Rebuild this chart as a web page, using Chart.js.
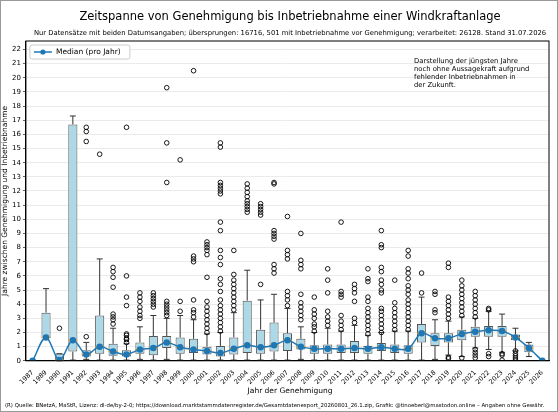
<!DOCTYPE html>
<html><head><meta charset="utf-8">
<script src="https://cdn.jsdelivr.net/npm/chart.js@4"></script>
<style>html,body{margin:0;padding:0;background:#fff}#w{position:relative;width:556px;height:410px;border:1px solid #999}canvas{display:block}</style>
</head><body><div id="w"><canvas id="c" width="556" height="410"></canvas></div>
<script>
const years=['1987','1989','1990','1991','1992','1993','1994','1995','1996','1997','1998','1999','2000','2001','2002','2003','2004','2005','2006','2007','2008','2009','2010','2011','2012','2013','2014','2015','2016','2017','2018','2019','2020','2021','2022','2023','2024','2025','2026'];
const whiskerLow=[0,1.6,0,0.05,0.1,0.05,0.05,0.05,0.1,0.05,0.1,0.05,0.05,0.05,0.05,0.05,0.05,0.05,0.05,0.05,0.1,0.05,0.05,0.05,0.05,0.05,0.05,0.05,0.05,0.05,0.1,0.4,0.3,0.9,0.8,0.6,0.7,0.3,0];
const q1=[0,1.6,0.02,0.65,0.3,0.5,0.35,0.3,0.5,0.4,0.9,0.5,0.55,0.45,0.3,0.45,0.55,0.5,0.65,0.7,0.8,0.5,0.5,0.55,0.55,0.5,0.7,0.55,0.5,1.3,1.05,1.3,1.45,1.7,1.7,1.7,1.45,0.6,0];
const median=[0,1.65,0.05,1.45,0.45,1.0,0.65,0.45,0.8,0.9,1.3,0.95,0.8,0.7,0.55,0.85,1.1,0.95,1.1,1.45,1.0,0.85,0.85,0.85,0.9,0.85,0.95,0.85,0.85,1.95,1.6,1.6,1.9,2.05,2.15,2.1,1.65,0.9,0];
const q3=[0,3.4,0.5,16.7,0.75,3.2,1.2,0.75,1.3,1.75,1.75,1.65,1.55,1.0,1.05,1.65,4.25,2.2,2.7,1.95,1.55,1.1,1.15,1.15,1.4,1.05,1.25,1.15,1.1,2.6,1.95,1.95,2.2,2.4,2.45,2.45,1.85,1.15,0];
const whiskerHigh=[0,5.1,0.5,17.3,1.3,7.2,2.3,1.2,2.4,3.2,3.0,3.2,2.9,1.9,2.0,3.4,6.4,4.3,4.7,3.7,2.4,2.0,2.3,2.1,2.5,1.8,2.0,2.1,2.1,4.5,2.9,2.8,3.1,3.0,3.5,3.3,2.3,1.3,0];
const outliers=[[],[],[2.3],[],[1.7,15.5,16.2,16.5],[14.6],[2.6,2.9,3.1,3.3,5.2,5.9,6.3,6.6],[1.3,1.5,1.6,1.8,1.9,3.9,4.5,6.0,16.5],[3.0,3.2,3.5,3.8,4.2,4.5,4.8],[3.8,4.0,4.2,4.4,4.6,4.8],[3.2,3.4,3.6,3.8,4.0,4.2,12.6,15.4,19.3],[3.5,4.2,14.2],[3.1,3.4,3.6,4.3,7.0,7.2,7.4,20.5],[2.0,2.3,2.6,2.9,3.2,3.5,3.8,4.2,5.9,7.5,7.8,8.0,8.2,8.4],[2.1,2.4,2.7,3.0,3.3,3.6,3.9,4.3,4.9,5.4,5.8,6.8,7.3,7.8,9.2,9.8,11.8,12.0,12.2,12.4,12.6,15.1,15.4],[3.6,3.9,4.2,4.5,4.8,5.1,5.4,5.7,6.1,7.8],[10.5,10.7,10.9,11.1,11.3,11.6,11.9,12.2,12.5],[5.4,10.3,10.5,10.7,10.9,11.1],[6.2,6.5,6.8,8.6,8.8,9.0,9.2,12.5,12.6],[3.9,4.3,4.6,4.9,7.2,7.5,7.8,10.2],[2.9,3.2,3.5,3.8,4.1,4.7,6.5,6.8,7.1,9.0],[2.1,2.4,2.6,3.0,3.3,3.6,4.5],[2.5,2.8,3.1,3.5,4.8,5.7,6.5],[2.2,2.5,2.8,3.2,4.5,4.7,4.9,9.8],[2.7,3.0,4.2,4.8,5.1,5.4],[1.9,2.2,2.5,2.8,3.1,3.4,3.7,4.2,4.5,5.6,5.8,6.5],[2.0,2.3,2.6,2.9,3.2,3.5,3.7,4.8,5.0,5.4,5.7,6.3,6.6,8.0,8.2,9.2],[2.2,2.5,2.8,3.1,3.4,3.7,4.1,5.7],[2.2,2.5,2.8,3.1,3.4,3.7,4.0,4.3,4.7,5.0,5.3,5.8,6.2,6.5,7.4,7.8],[4.8,6.2],[3.4,3.6,4.7,4.9],[0.15,0.25,3.0,3.3,3.6,3.9,4.2,4.5,6.6,6.9],[0.2,3.2,3.5,3.8,4.1,4.4,4.7,5.0,5.3,5.7],[0.2,0.4,0.6,0.8,3.1,3.4,3.7,4.0,4.3,4.6,4.9],[0.3,0.5,3.6,3.7],[0.05,0.4,0.5],[0.05,0.2,0.35,0.5,0.7],[],[]];
const yTicks=[0,1,2,3,4,5,6,7,8,9,10,11,12,13,14,15,16,17,18,19,20,21,22];

const outlierPts=[];
years.forEach((y,i)=>outliers[i].forEach(v=>outlierPts.push({x:y,y:v})));

const boxPlugin={id:'box',
 beforeDatasetsDraw(ch){
  const c=ch.ctx,xs=ch.scales.x,ys=ch.scales.y;
  c.save();c.strokeStyle='#333';c.lineWidth=1;
  years.forEach((yr,i)=>{
   const x=xs.getPixelForValue(i);
   if(whiskerHigh[i]===0&&q3[i]===0)return;
   c.beginPath();
   c.moveTo(x,ys.getPixelForValue(q3[i]));c.lineTo(x,ys.getPixelForValue(whiskerHigh[i]));
   c.moveTo(x,ys.getPixelForValue(q1[i]));c.lineTo(x,ys.getPixelForValue(whiskerLow[i]));
   c.moveTo(x-3,ys.getPixelForValue(whiskerHigh[i]));c.lineTo(x+3,ys.getPixelForValue(whiskerHigh[i]));
   c.moveTo(x-3,ys.getPixelForValue(whiskerLow[i]));c.lineTo(x+3,ys.getPixelForValue(whiskerLow[i]));
   c.stroke();
  });
  c.restore();
 },
 afterDatasetDraw(ch,args){
  if(args.index!==0)return;
  const c=ch.ctx,xs=ch.scales.x,ys=ch.scales.y;
  c.save();c.strokeStyle='#f39a1e';c.lineWidth=1.2;
  years.forEach((yr,i)=>{
   if(q3[i]===0)return;
   const x=xs.getPixelForValue(i),y=ys.getPixelForValue(median[i]);
   c.beginPath();c.moveTo(x-4.5,y);c.lineTo(x+4.5,y);c.stroke();
  });
  c.restore();
 },
 afterDraw(ch){
  const c=ch.ctx,a=ch.chartArea;
  c.save();
  c.strokeStyle='#000';c.lineWidth=1;c.strokeRect(a.left,a.top,a.right-a.left,a.bottom-a.top);
  c.fillStyle='#fff';c.strokeStyle='#ccc';
  c.beginPath();c.roundRect(a.left+4,a.top+4,100,14,2);c.fill();c.stroke();
  c.strokeStyle='#1f77b4';c.lineWidth=1.5;c.beginPath();c.moveTo(a.left+8,a.top+11);c.lineTo(a.left+26,a.top+11);c.stroke();
  c.fillStyle='#1f77b4';c.beginPath();c.arc(a.left+17,a.top+11,2.6,0,7);c.fill();
  c.fillStyle='#000';c.font='7.5px "DejaVu Sans"';c.textBaseline='middle';c.fillText('Median (pro Jahr)',a.left+30,a.top+11.5);
  c.textBaseline='alphabetic';c.font='6.8px "DejaVu Sans"';
  ['Darstellung der jüngsten Jahre','noch ohne Aussagekraft aufgrund','fehlender Inbetriebnahmen in','der Zukunft.'].forEach((t,k)=>c.fillText(t,413,62+k*8));
  c.textAlign='center';c.font='11.5px "DejaVu Sans"';c.fillText('Zeitspanne von Genehmigung bis Inbetriebnahme einer Windkraftanlage',289,19);
  c.font='6.8px "DejaVu Sans"';c.fillText('Nur Datensätze mit beiden Datumsangaben; übersprungen: 16716, 501 mit Inbetriebnahme vor Genehmigung; verarbeitet: 26128. Stand 31.07.2026',289,34);
  c.font='7.5px "DejaVu Sans"';c.fillText('Jahr der Genehmigung',289,392);
  c.textAlign='left';c.font='5.4px "DejaVu Sans"';
  c.fillText('(R) Quelle: BNetzA, MaStR, Lizenz: dl-de/by-2-0; https://download.marktstammdatenregister.de/Gesamtdatenexport_20260801_26.1.zip, Grafik: @tinoeberl@mastodon.online – Angaben ohne Gewähr.',4,406);
  c.restore();
 }};

new Chart(document.getElementById('c'),{
 type:'bar',
 data:{labels:years,datasets:[
  {type:'bar',data:years.map((y,i)=>[q1[i],q3[i]]),backgroundColor:'#add8e6',borderColor:'#555',borderWidth:1,borderSkipped:false,barPercentage:0.68,categoryPercentage:1,order:3},
  {type:'line',data:median,borderColor:'#1f77b4',backgroundColor:'#1f77b4',borderWidth:1.5,pointRadius:2.5,tension:0.35,order:0},
  {type:'line',data:outlierPts,showLine:false,pointRadius:2.3,pointBorderWidth:0.9,pointBorderColor:'#000',pointBackgroundColor:'rgba(0,0,0,0)',order:1}
 ]},
 options:{responsive:false,animation:false,
  layout:{padding:{left:0,right:8,top:40,bottom:25}},
  plugins:{legend:{display:false},tooltip:{enabled:false}},
  scales:{
   x:{offset:true,grid:{display:false},border:{color:'#000'},
      ticks:{color:'#000',font:{size:6.5,family:'DejaVu Sans'},maxRotation:45,minRotation:45,autoSkip:false,padding:0}},
   y:{min:0,max:22.6,border:{color:'#000'},
      afterBuildTicks:s=>{s.ticks=yTicks.map(v=>({value:v}));},
      title:{display:true,text:'Jahre zwischen Genehmigung und Inbetriebnahme',color:'#000',font:{size:7.5,family:'DejaVu Sans'},padding:0},
      grid:{color:'#ddd',lineWidth:0.6,tickColor:'#000',tickLength:3},
      ticks:{color:'#000',font:{size:7,family:'DejaVu Sans'},padding:2}}
  }},
 plugins:[boxPlugin]
});
</script></body></html>
